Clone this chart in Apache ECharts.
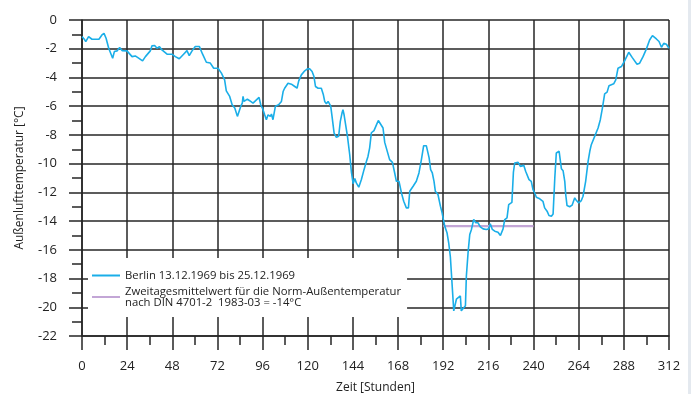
<!DOCTYPE html>
<html><head><meta charset="utf-8">
<script src="https://cdn.jsdelivr.net/npm/echarts@6/dist/echarts.min.js"></script>
<style>html,body{margin:0;padding:0;background:#fff}#c{width:691px;height:394px}</style>
</head><body><div id="c"></div>
<script>
const hours = [0,1,2,3,3.5,4.5,5.3,9,10.6,11.7,12.8,14.2,16.3,17.2,18.6,20,21.3,23.9,26.6,28.3,30.1,32.2,33.7,36.3,37.2,38.6,39.9,41.1,42.5,45.2,47.8,49.6,51.7,54,55.8,57,58.5,60.2,62.4,64.1,66.1,68.2,70,72.3,74.1,75.8,76.7,78.5,79.8,81.2,82.6,83.5,84.4,85.2,85.6,86.1,87,87.9,89.1,90.9,92.7,94.1,95,95.9,97.1,98,98.9,100.1,100.7,101.5,102.4,102.8,104.5,106,106.9,107.7,108.6,109.5,111.3,113.1,114.3,115.2,116.6,118.4,119.8,121,122.3,123.3,124.1,125.5,127.2,128.3,129,129.9,130.8,131.7,132.2,132.9,134,135.2,136.4,137.3,138.2,138.7,139.3,140,141.1,142.3,143.2,144.1,145,145.8,147.1,148.5,149.9,151.2,152,152.9,153.8,155.2,156.5,157.5,158.5,160,160.9,163.5,165,166.2,167.1,168.5,169.8,171,172.4,173.5,174.2,176,177.7,179.1,180.4,181.6,183,184.5,185.3,186.2,187.1,187.8,189.2,190.1,190.5,191.4,191.9,192.8,194,194.9,195.8,196.7,197.6,198.5,199,199.9,201.1,201.6,202.5,203.8,204.3,205.2,206.1,207,208.2,209.3,210.5,211.7,213.2,214.9,216.2,217,218.1,219.4,221.1,222.4,223.8,224.7,225.9,226.8,227.7,228.5,229.3,230,231.8,233,234.8,235.8,237.6,238.8,239.7,240.6,241.5,243.3,245,245.9,247.2,248.2,249.5,250.4,251.3,252.1,253.6,254.3,254.8,255.7,256.6,257.1,257.8,259.2,260.5,261.9,262.8,264,265.4,266.3,267.7,269,269.9,270.7,272.5,274.3,275.5,276.6,277.8,279.1,280.1,282.6,283.7,284.9,286.7,288.4,290.6,292.5,295,296.4,298.2,300,301.7,303.2,305.3,306.7,308,309.2,310.6,312];
const temps = [-1.16,-1.3,-1.5,-1.45,-1.16,-1.2,-1.34,-1.34,-1.04,-0.93,-1.27,-1.97,-2.66,-2.2,-2.15,-1.92,-2.13,-2.15,-2.55,-2.5,-2.66,-2.85,-2.55,-2.15,-1.8,-1.78,-1.97,-1.85,-2.08,-2.38,-2.38,-2.55,-2.7,-2.38,-2.13,-2.48,-2.15,-1.85,-1.85,-2.38,-2.94,-3.0,-3.36,-3.36,-3.7,-4.17,-4.93,-5.32,-5.9,-6.13,-6.71,-6.71,-6.0,-5.79,-5.32,-5.67,-5.79,-5.51,-5.62,-5.79,-5.56,-5.39,-5.9,-6.13,-6.6,-6.94,-6.6,-6.71,-6.55,-6.94,-7.01,-6.0,-5.9,-5.67,-4.98,-4.75,-4.7,-4.4,-4.47,-4.63,-4.75,-4.24,-3.82,-3.54,-3.4,-3.4,-3.59,-3.94,-4.63,-4.75,-4.75,-5.21,-5.67,-5.83,-5.67,-5.56,-6.0,-6.71,-7.87,-8.17,-8.1,-7.06,-6.48,-6.25,-6.6,-6.6,-8.1,-9.38,-10.6,-11.4,-11.04,-11.34,-11.64,-11.11,-10.42,-9.84,-9.5,-8.9,-7.85,-7.7,-7.3,-7.0,-7.05,-7.52,-8.52,-9.72,-9.91,-10.65,-11.23,-11.23,-12.04,-12.62,-13.08,-13.08,-11.92,-11.57,-11.23,-10.65,-9.72,-8.75,-8.75,-9.6,-10.42,-10.65,-11.23,-11.92,-12.15,-12.27,-12.96,-13.43,-13.77,-14.35,-14.81,-15.51,-16.5,-16.5,-20.25,-20.25,-19.44,-19.33,-19.21,-20.25,-20.25,-19.9,-17.82,-16.2,-14.93,-14.58,-13.89,-14.12,-14.12,-14.4,-14.54,-14.58,-14.54,-14.19,-14.58,-14.7,-14.77,-15.0,-14.54,-13.89,-13.77,-12.85,-12.73,-12.7,-10.6,-9.95,-9.91,-10.19,-10.12,-10.53,-11.11,-11.23,-11.81,-12.04,-12.34,-12.45,-12.62,-13.08,-13.31,-13.61,-13.66,-13.5,-11,-9.26,-9.14,-9.14,-10.35,-10.49,-11.23,-12.15,-12.92,-13.0,-12.89,-12.38,-12.57,-12.73,-12.57,-12.27,-11.23,-9.84,-9.14,-8.68,-8.1,-7.52,-6.94,-6.13,-5.14,-5.02,-4.58,-4.44,-4.17,-3.36,-3.24,-2.85,-2.25,-2.62,-3.08,-3.01,-2.55,-2.01,-1.39,-1.09,-1.32,-1.5,-1.9,-1.62,-1.69,-1.97];
const normHours = [192, 240];
const normTemps = [-14.35, -14.35];
const seriesNames = ['Berlin 13.12.1969 bis 25.12.1969', 'Zweitagesmittelwert für die Norm-Außentemperatur\nnach DIN 4701-2  1983-03 = -14°C'];
const xTicks = {min: 0, max: 312, interval: 24};
const yTicks = {min: -22, max: 0, interval: 2};
const xName = 'Zeit [Stunden]';
const yName = 'Außenlufttemperatur [°C]';

const FONT = '"Open Sans", "Noto Sans", sans-serif';
const gridColor = '#262626';
const chart = echarts.init(document.getElementById('c'), null, {renderer: 'canvas'});
chart.setOption({
  animation: false,
  backgroundColor: '#fff',
  textStyle: {fontFamily: FONT},
  grid: {left: 82, right: 22, top: 20, bottom: 58, containLabel: false, outerBoundsMode: 'none'},
  xAxis: {
    type: 'value', min: xTicks.min, max: xTicks.max, interval: xTicks.interval,
    name: xName, nameLocation: 'middle', nameGap: 46,
    nameTextStyle: {fontFamily: FONT, fontSize: 12, color: '#222'},
    axisLine: {show: true, onZero: false, lineStyle: {color: gridColor, width: 1.5}},
    axisTick: {show: true, length: 14, lineStyle: {color: gridColor, width: 1.5}},
    minorTick: {show: true, splitNumber: 2, length: 9, lineStyle: {color: gridColor, width: 1.5}},
    axisLabel: {margin: 24, fontSize: 13, color: '#222', fontFamily: FONT},
    splitLine: {show: true, lineStyle: {color: gridColor, width: 1.5}}
  },
  yAxis: {
    type: 'value', min: yTicks.min, max: yTicks.max, interval: yTicks.interval,
    name: yName, nameLocation: 'middle', nameGap: 56, nameRotate: 90,
    nameTextStyle: {fontFamily: FONT, fontSize: 12, color: '#222'},
    axisLine: {show: true, onZero: false, lineStyle: {color: gridColor, width: 1.5}},
    axisTick: {show: true, length: 13, lineStyle: {color: gridColor, width: 1.5}},
    minorTick: {show: true, splitNumber: 2, length: 10, lineStyle: {color: gridColor, width: 1.5}},
    axisLabel: {margin: 25, fontSize: 13, color: '#222', fontFamily: FONT},
    splitLine: {show: true, lineStyle: {color: gridColor, width: 1.5}}
  },
  legend: {
    show: true, orient: 'vertical', left: 88, top: 258,
    padding: [12, 6, 9, 3], itemGap: 5, itemWidth: 28, itemHeight: 12,
    backgroundColor: '#fff', borderWidth: 0,
    data: seriesNames,
    itemStyle: {opacity: 0},
    textStyle: {fontFamily: FONT, fontSize: 11.3, lineHeight: 11, color: '#222'},
    selectedMode: false
  },
  series: [
    {
      name: seriesNames[0], type: 'line', symbol: 'none', showSymbol: false,
      lineStyle: {color: '#1aaee8', width: 1.6}, itemStyle: {color: '#1aaee8'},
      data: hours.map((h, i) => [h, temps[i]]), z: 3
    },
    {
      name: seriesNames[1], type: 'line', symbol: 'none', showSymbol: false,
      lineStyle: {color: '#c3a6d6', width: 2.2}, itemStyle: {color: '#c3a6d6'},
      data: normHours.map((h, i) => [h, normTemps[i]]), z: 2
    }
  ],
  graphic: [{type: 'rect', right: 0, top: 0, shape: {width: 3, height: 394}, style: {fill: '#e4e9ef'}, silent: true}]
});
</script></body></html>
